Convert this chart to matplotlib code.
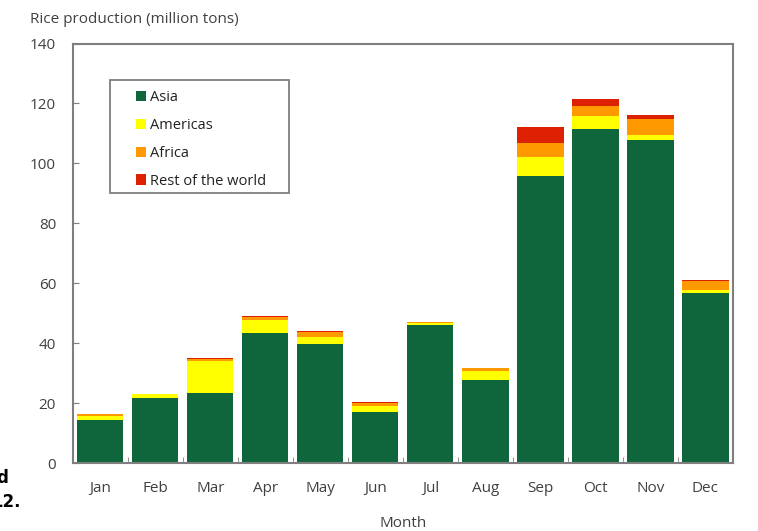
import numpy as np
import matplotlib.pyplot as plt
from matplotlib.patches import Rectangle
from matplotlib.ticker import FixedLocator

plt.rcParams["font.family"] = ["Open Sans", "DejaVu Sans"]

months = ["Jan", "Feb", "Mar", "Apr", "May", "Jun",
          "Jul", "Aug", "Sep", "Oct", "Nov", "Dec"]
asia = [14.2, 21.7, 23.4, 43.4, 39.6, 17.1, 46.2, 27.6, 95.8, 111.5, 107.9, 56.8]
americas = [1.4, 1.2, 10.5, 4.4, 2.5, 1.9, 0.6, 3.1, 6.4, 4.4, 1.7, 1.0]
africa = [0.6, 0.2, 0.8, 0.9, 1.5, 1.2, 0.2, 0.9, 4.5, 3.3, 5.2, 3.1]
rest = [0.1, 0.1, 0.2, 0.3, 0.3, 0.2, 0.1, 0.2, 5.3, 2.3, 1.2, 0.1]

series = [("Asia", asia, "#10663c"),
          ("Americas", americas, "#ffff00"),
          ("Africa", africa, "#ff9900"),
          ("Rest of the world", rest, "#dd2000")]

TEXT = "#404040"
SPINE = "#7f7f7f"

fig = plt.figure(figsize=(7.58, 5.31), dpi=100)
ax = fig.add_axes([0.096, 0.128, 0.871, 0.790])

x = np.arange(len(months))
bottom = np.zeros(len(months))
handles = []
for name, vals, color in series:
    vals = np.array(vals)
    b = ax.bar(x, vals, width=0.84, bottom=bottom, color=color,
               edgecolor="none", label=name)
    handles.append(b)
    bottom += vals

ax.set_xlim(-0.5, len(months) - 0.5)
ax.set_ylim(0, 140)
ax.set_yticks(range(0, 141, 20))
ax.set_xticks(x)
ax.set_xticklabels(months)
ax.xaxis.set_minor_locator(FixedLocator(np.arange(0.5, len(months) - 0.5, 1)))

ax.tick_params(axis="x", which="major", length=0, pad=13, labelsize=11, labelcolor=TEXT)
ax.tick_params(axis="x", which="minor", direction="in", length=4, color=SPINE)
ax.tick_params(axis="y", direction="in", length=4, color=SPINE, pad=12,
               labelsize=11, labelcolor=TEXT)

for s in ax.spines.values():
    s.set_color(SPINE)
    s.set_linewidth(1.5)

ax.set_xlabel("Month", fontsize=11, color=TEXT, labelpad=14)
fig.text(0.040, 0.964, "Rice production (million tons)", fontsize=11,
         color=TEXT, ha="left", va="center")

# legend box drawn by hand so the entries sit further inside the frame
ax.add_patch(Rectangle((0.0564, 0.643), 0.2712, 0.270, transform=ax.transAxes,
                       facecolor="white", edgecolor=SPINE, linewidth=1.3, zorder=3))
leg = ax.legend(handles=handles, loc="upper left", bbox_to_anchor=(0.0958, 0.889),
                frameon=False, fontsize=10.5, handlelength=0.7, handleheight=0.7,
                handletextpad=0.25, labelspacing=0.88, borderaxespad=0,
                borderpad=0, labelcolor="#222222")
leg.set_zorder(4)

# cropped text fragments at the left edge of the source image
fig.text(0.011, 0.099, "d", fontsize=12, fontweight="bold", ha="right", va="center",
         family="DejaVu Sans")
fig.text(0.027, 0.054, "12.", fontsize=12, fontweight="bold", ha="right", va="center",
         family="DejaVu Sans")

fig.savefig("out.png", dpi=100)
